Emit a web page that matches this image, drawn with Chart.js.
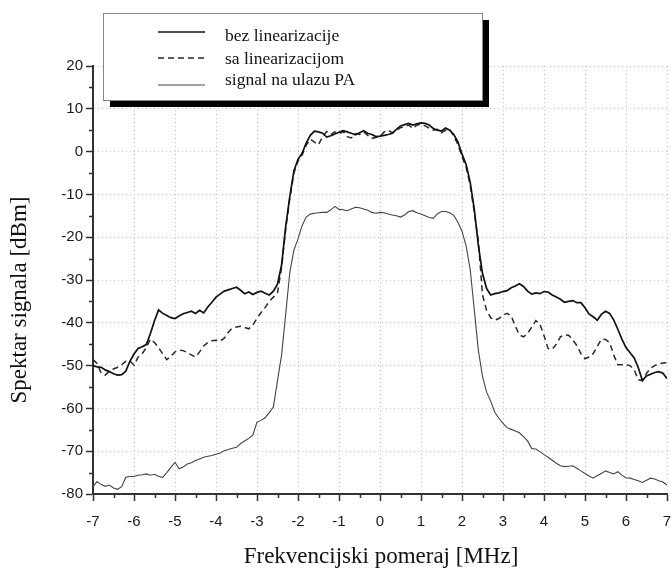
<!DOCTYPE html>
<html>
<head>
<meta charset="utf-8">
<script src="https://cdn.jsdelivr.net/npm/chart.js@4.4.0/dist/chart.umd.min.js"></script>
<style>
html, body { margin: 0; padding: 0; background: #fff; }
canvas { display: block; }
</style>
</head>
<body>
<canvas id="spectrumChart" width="671" height="573"></canvas>
<script>
// frequency offset [MHz]
const freqs = [
  -7.0,-6.9,-6.8,-6.7,-6.6,-6.5,-6.4,-6.3,-6.2,-6.1,-6.0,-5.9,-5.8,-5.7,-5.6,-5.5,-5.4,-5.3,-5.2,-5.1,
  -5.0,-4.9,-4.8,-4.7,-4.6,-4.5,-4.4,-4.3,-4.2,-4.1,-4.0,-3.9,-3.8,-3.7,-3.6,-3.5,-3.4,-3.3,-3.2,-3.1,
  -3.0,-2.9,-2.8,-2.7,-2.6,-2.5,-2.4,-2.3,-2.2,-2.1,-2.0,-1.9,-1.8,-1.7,-1.6,-1.5,-1.4,-1.3,-1.2,-1.1,
  -1.0,-0.9,-0.8,-0.7,-0.6,-0.5,-0.4,-0.3,-0.2,-0.1,0.0,0.1,0.2,0.3,0.4,0.5,0.6,0.7,0.8,0.9,
  1.0,1.1,1.2,1.3,1.4,1.5,1.6,1.7,1.8,1.9,2.0,2.1,2.2,2.3,2.4,2.5,2.6,2.7,2.8,2.9,
  3.0,3.1,3.2,3.3,3.4,3.5,3.6,3.7,3.8,3.9,4.0,4.1,4.2,4.3,4.4,4.5,4.6,4.7,4.8,4.9,
  5.0,5.1,5.2,5.3,5.4,5.5,5.6,5.7,5.8,5.9,6.0,6.1,6.2,6.3,6.4,6.5,6.6,6.7,6.8,6.9,7.0
];

// spectrum [dBm], one value per freq
const bezLinearizacije = [
  -50.0,-50.3,-50.4,-51.0,-51.4,-51.9,-52.2,-52.1,-51.3,-49.0,-47.3,-46.0,-45.6,-45.1,-42.5,-39.5,-37.0,-37.8,-38.3,-38.8,
  -39.0,-38.4,-37.9,-37.6,-37.3,-37.8,-37.1,-37.7,-36.3,-35.2,-34.0,-33.3,-32.6,-32.3,-32.0,-31.7,-32.4,-33.2,-32.8,-33.4,
  -32.9,-32.6,-33.1,-33.5,-32.6,-31.0,-26.5,-17.5,-10.5,-4.5,-1.8,-0.4,2.0,3.8,4.8,4.6,4.3,3.4,3.7,4.1,
  4.5,4.9,4.6,4.3,3.9,4.4,4.9,4.3,4.0,3.5,3.6,3.8,4.0,4.3,5.2,6.0,6.3,6.6,6.2,6.5,
  6.7,6.6,6.2,5.4,5.0,4.8,5.5,5.0,4.0,2.3,-0.6,-3.0,-7.2,-13.5,-22.0,-28.5,-32.0,-33.5,-33.2,-33.0,
  -32.7,-32.5,-31.8,-31.4,-30.9,-31.5,-32.6,-33.3,-33.0,-33.2,-32.7,-32.8,-33.5,-34.0,-34.5,-35.2,-35.0,-34.8,-35.3,-35.3,
  -36.5,-38.0,-38.6,-39.4,-38.0,-37.3,-37.8,-39.3,-41.5,-43.8,-45.8,-47.0,-48.2,-50.5,-53.5,-52.4,-52.0,-51.6,-51.4,-51.8,-53.0
];

const saLinearizacijom = [
  -48.6,-49.5,-51.8,-52.2,-51.3,-50.8,-50.4,-49.8,-49.0,-48.9,-49.9,-48.0,-47.2,-45.8,-43.8,-44.6,-45.8,-47.3,-48.6,-47.8,
  -46.8,-46.4,-46.5,-47.0,-47.5,-48.0,-46.8,-45.4,-44.6,-44.2,-44.1,-44.3,-43.6,-42.2,-41.2,-41.0,-40.8,-41.1,-41.4,-40.5,
  -39.0,-37.6,-36.4,-35.0,-34.0,-33.0,-27.0,-18.0,-11.0,-5.0,-2.2,-0.8,1.5,2.9,2.2,1.6,3.5,4.7,4.0,4.6,
  4.2,4.7,3.5,3.2,4.2,4.0,4.6,3.8,3.1,3.3,3.5,4.6,5.0,4.4,4.9,5.6,5.8,6.2,5.4,6.2,
  6.4,6.0,5.5,5.0,5.2,4.4,5.0,5.2,3.6,1.7,-1.2,-3.6,-7.8,-14.2,-21.0,-33.5,-37.1,-38.8,-39.4,-39.0,
  -38.2,-37.8,-38.4,-40.8,-42.8,-43.3,-42.5,-41.0,-39.5,-40.3,-43.0,-46.0,-46.2,-45.0,-43.3,-42.8,-42.9,-44.0,-45.3,-47.2,
  -48.4,-48.0,-47.2,-45.5,-43.8,-43.9,-44.6,-47.5,-49.8,-49.8,-49.8,-50.0,-51.0,-53.3,-53.5,-51.8,-50.6,-50.0,-49.6,-49.4,-49.3
];

const signalUlazPA = [
  -78.3,-77.1,-77.8,-78.2,-77.9,-78.6,-78.9,-78.3,-76.1,-75.9,-75.9,-75.6,-75.5,-75.3,-75.6,-75.4,-75.9,-76.1,-75.0,-73.8,
  -72.6,-74.1,-73.7,-73.0,-72.7,-72.2,-71.8,-71.4,-71.2,-71.0,-70.7,-70.4,-69.9,-69.6,-69.3,-69.1,-68.2,-67.6,-67.0,-66.2,
  -63.2,-62.8,-62.2,-61.0,-59.7,-53.5,-47.5,-38.0,-28.2,-23.0,-20.4,-17.3,-15.3,-14.6,-14.4,-14.3,-14.2,-14.2,-13.6,-12.8,
  -13.5,-13.6,-13.8,-13.4,-13.0,-13.1,-13.4,-13.7,-14.2,-14.4,-14.2,-14.3,-14.6,-14.8,-15.0,-15.3,-14.8,-14.0,-13.8,-14.3,
  -14.6,-15.0,-15.4,-15.6,-14.5,-14.0,-14.0,-14.3,-14.9,-16.5,-18.6,-22.0,-27.5,-37.0,-46.5,-52.5,-56.2,-58.3,-60.9,-62.3,
  -63.5,-64.5,-64.9,-65.3,-65.7,-66.6,-67.6,-69.4,-69.5,-70.1,-70.8,-71.4,-72.1,-72.8,-73.4,-73.6,-73.5,-73.4,-74.0,-74.6,
  -75.2,-75.8,-76.3,-75.7,-75.2,-74.6,-75.0,-75.3,-74.8,-75.6,-76.2,-76.3,-76.6,-76.9,-77.3,-76.8,-76.3,-76.5,-76.9,-77.2,-77.9
];

const legendLabels = ['bez linearizacije', 'sa linearizacijom', 'signal na ulazu PA'];
const xTitle = 'Frekvencijski pomeraj [MHz]';
const yTitle = 'Spektar signala [dBm]';

function toPoints(vals) {
  return freqs.map((f, i) => ({ x: f, y: vals[i] }));
}

const serif = '"Liberation Serif", "Times New Roman", serif';
const sans = '"Liberation Sans", Arial, sans-serif';

// minor ticks, axis titles and the boxed legend with shadow
const decorations = {
  id: 'decorations',
  afterDraw(chart) {
    const { ctx, chartArea, scales: { x, y } } = chart;
    ctx.save();
    ctx.strokeStyle = '#333';
    ctx.lineWidth = 1.5;
    ctx.beginPath();
    for (let v = -75; v <= 15; v += 10) {
      const py = Math.round(y.getPixelForValue(v)) + 0.5;
      ctx.moveTo(chartArea.left - 4, py);
      ctx.lineTo(chartArea.left, py);
    }
    for (let v = -6.5; v <= 6.5; v += 1) {
      const px = Math.round(x.getPixelForValue(v)) + 0.5;
      ctx.moveTo(px, chartArea.bottom);
      ctx.lineTo(px, chartArea.bottom + 4);
    }
    ctx.stroke();

    // axis titles
    ctx.fillStyle = '#111';
    ctx.font = '23px ' + serif;
    ctx.textAlign = 'center';
    ctx.textBaseline = 'middle';
    ctx.fillText(xTitle, 381, 557);
    ctx.save();
    ctx.translate(20, 300);
    ctx.rotate(-Math.PI / 2);
    ctx.fillText(yTitle, 0, 0);
    ctx.restore();

    // legend box
    const bx = 103, by = 13, bw = 379, bh = 87;
    ctx.fillStyle = '#000';
    ctx.fillRect(bx + 7, by + 7, bw, bh);
    ctx.fillStyle = '#fff';
    ctx.fillRect(bx, by, bw, bh);
    ctx.strokeStyle = '#888';
    ctx.lineWidth = 1;
    ctx.strokeRect(bx + 0.5, by + 0.5, bw, bh);

    const lineY = [32, 58, 85];
    const textY = [36, 59, 80];
    chart.data.datasets.forEach((ds, i) => {
      ctx.strokeStyle = ds.borderColor;
      ctx.lineWidth = ds.borderWidth;
      ctx.setLineDash(ds.borderDash || []);
      ctx.beginPath();
      ctx.moveTo(158, lineY[i]);
      ctx.lineTo(205, lineY[i]);
      ctx.stroke();
      ctx.setLineDash([]);
      ctx.fillStyle = '#111';
      ctx.font = '17.5px ' + serif;
      ctx.textAlign = 'left';
      ctx.fillText(legendLabels[i], 225, textY[i]);
    });
    ctx.restore();
  }
};

const ctx = document.getElementById('spectrumChart').getContext('2d');
const spectrumChart = new Chart(ctx, {
  type: 'line',
  data: {
    datasets: [
      {
        label: legendLabels[0],
        data: toPoints(bezLinearizacije),
        borderColor: '#111',
        borderWidth: 1.7,
        pointRadius: 0,
        tension: 0
      },
      {
        label: legendLabels[1],
        data: toPoints(saLinearizacijom),
        borderColor: '#2a2a2a',
        borderWidth: 1.5,
        borderDash: [6, 4],
        pointRadius: 0,
        tension: 0
      },
      {
        label: legendLabels[2],
        data: toPoints(signalUlazPA),
        borderColor: '#444',
        borderWidth: 1.1,
        pointRadius: 0,
        tension: 0
      }
    ]
  },
  options: {
    responsive: false,
    animation: false,
    layout: { padding: { top: 66, right: 4, left: 0, bottom: 0 } },
    plugins: {
      legend: { display: false },
      tooltip: { enabled: false }
    },
    scales: {
      x: {
        type: 'linear',
        min: -7,
        max: 7,
        ticks: {
          stepSize: 1,
          color: '#1a1a1a',
          font: { family: sans, size: 15 },
          padding: 12,
          maxRotation: 0
        },
        grid: {
          color: '#c4c4c4',
          lineWidth: 1,
          tickColor: '#333',
          tickWidth: 1.5,
          tickLength: 7,
          tickBorderDash: []
        },
        border: { color: '#333', width: 2, dash: [1, 3] },
        afterFit(scale) {
          scale.height = 79;
          scale.paddingLeft = 0;
          scale.paddingRight = 0;
        }
      },
      y: {
        min: -80,
        max: 20,
        ticks: {
          stepSize: 10,
          color: '#1a1a1a',
          font: { family: sans, size: 15 },
          padding: 3
        },
        grid: {
          color: '#c4c4c4',
          lineWidth: 1,
          tickColor: '#333',
          tickWidth: 1.5,
          tickLength: 7,
          tickBorderDash: []
        },
        border: { color: '#333', width: 2, dash: [1, 3] },
        afterFit(scale) { scale.width = 93; }
      }
    }
  },
  plugins: [decorations]
});
</script>
</body>
</html>
